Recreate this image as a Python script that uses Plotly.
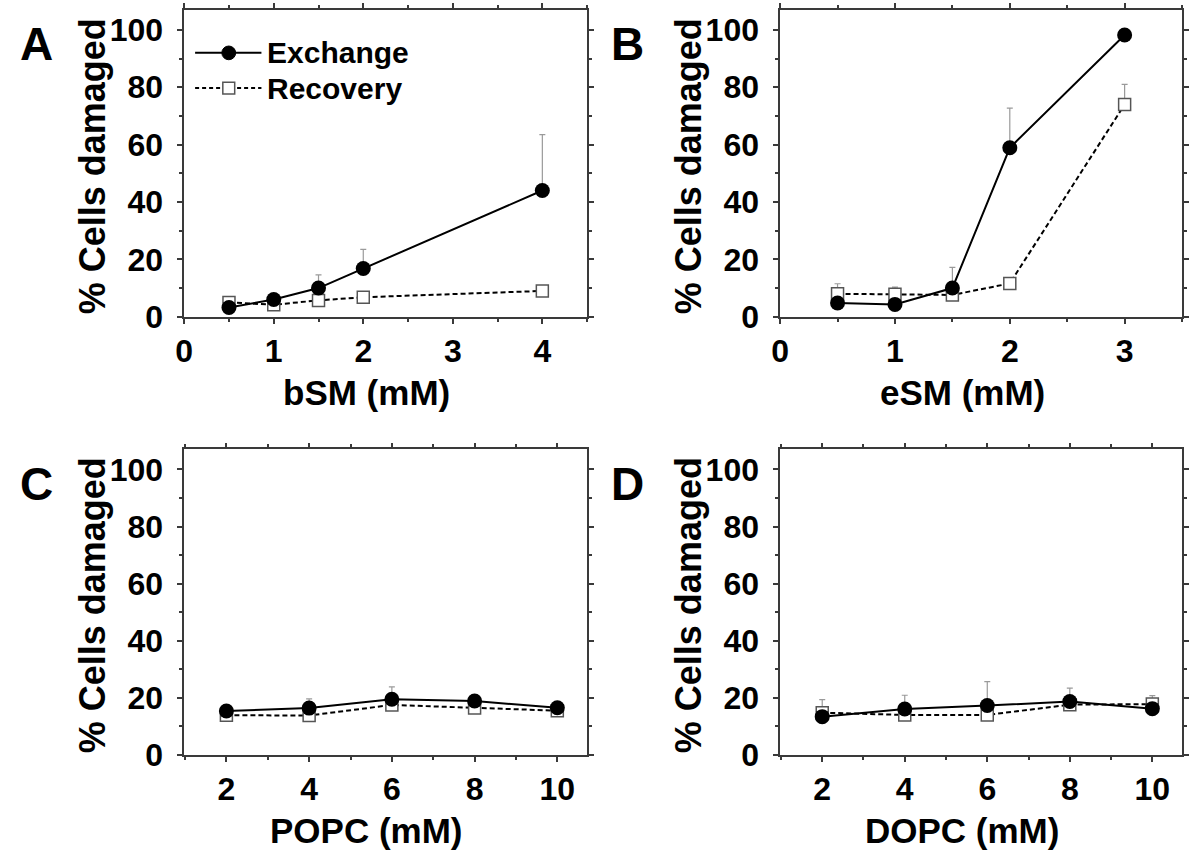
import plotly.graph_objects as go

# ---- data: % cells damaged vs lipid concentration (mean and upper error) ----
bsm_mm = [0.5, 1, 1.5, 2, 4]
bsm_exchange = [3.2, 6.0, 10.0, 16.8, 44.0]
bsm_exchange_err = [0.8, 0.8, 4.6, 6.7, 19.5]
bsm_recovery = [5.0, 4.2, 5.7, 6.8, 9.0]
bsm_recovery_err = [0.8, 0.6, 0.8, 0.8, 1.4]

esm_mm = [0.5, 1, 1.5, 2, 3]
esm_exchange = [4.8, 4.3, 10.0, 58.9, 98.2]
esm_exchange_err = [1.0, 1.0, 7.2, 13.8, 0.5]
esm_recovery = [8.0, 7.8, 7.6, 11.6, 74.0]
esm_recovery_err = [3.5, 2.5, 1.0, 1.0, 7.0]

popc_mm = [2, 4, 6, 8, 10]
popc_exchange = [15.4, 16.4, 19.5, 18.9, 16.5]
popc_exchange_err = [1.0, 3.2, 4.3, 1.0, 1.0]
popc_recovery = [13.9, 13.8, 17.5, 16.4, 15.5]
popc_recovery_err = [0.5, 0.5, 0.8, 0.5, 0.5]

dopc_mm = [2, 4, 6, 8, 10]
dopc_exchange = [13.4, 16.1, 17.3, 18.7, 16.2]
dopc_exchange_err = [1.0, 4.8, 8.4, 4.7, 1.0]
dopc_recovery = [14.8, 14.0, 14.0, 17.6, 17.8]
dopc_recovery_err = [4.6, 1.0, 1.0, 1.0, 3.0]

panels = [
    dict(letter="A", xtitle="bSM (mM)", x=bsm_mm, ex=bsm_exchange, exe=bsm_exchange_err,
         rc=bsm_recovery, rce=bsm_recovery_err, xrange=[0, 4.5], dtick=1, mdtick=0.5),
    dict(letter="B", xtitle="eSM (mM)", x=esm_mm, ex=esm_exchange, exe=esm_exchange_err,
         rc=esm_recovery, rce=esm_recovery_err, xrange=[0, 3.5], dtick=1, mdtick=0.5),
    dict(letter="C", xtitle="POPC (mM)", x=popc_mm, ex=popc_exchange, exe=popc_exchange_err,
         rc=popc_recovery, rce=popc_recovery_err, xrange=[0.98, 10.72], dtick=2, mdtick=1),
    dict(letter="D", xtitle="DOPC (mM)", x=dopc_mm, ex=dopc_exchange, exe=dopc_exchange_err,
         rc=dopc_recovery, rce=dopc_recovery_err, xrange=[0.98, 10.72], dtick=2, mdtick=1),
]

W, H = 1189, 863
FONT = "Liberation Sans, Arial, sans-serif"
AXC = "#3a3a3a"
ERRC = "#9a9a9a"
YRANGE = [0, 107]

# pixel boxes of the four plotting areas (left, right, top, bottom)
boxes = [(177, 584, 10, 323.5), (779, 1185, 10, 323.5),
         (177, 584, 459, 771), (779, 1185, 459, 771)]


def px(xp):
    return xp / W


def py(yp):
    return 1 - yp / H


fig = go.Figure()
layout = dict(width=W, height=H, margin=dict(l=0, r=0, t=0, b=0), autosize=False,
              paper_bgcolor="white", plot_bgcolor="white", showlegend=False,
              font=dict(family=FONT, color="black"))

annotations = []
shapes = []

for i, p in enumerate(panels):
    n = i + 1
    sfx = "" if n == 1 else str(n)
    l, r, t, b = boxes[i]
    xdom = [px(l), px(r)]
    ydom = [py(b), py(t)]

    # Recovery: dashed line with open squares
    fig.add_trace(go.Scatter(
        x=p["x"], y=p["rc"], mode="lines+markers",
        line=dict(color="black", width=2, dash="5px,3px"),
        marker=dict(symbol="square", size=12, color="white",
                    line=dict(color="#555555", width=1.5)),
        error_y=dict(type="data", symmetric=False, array=p["rce"],
                     arrayminus=[0] * len(p["rce"]), color=ERRC, thickness=1.2, width=3),
        xaxis="x" + sfx, yaxis="y" + sfx, name="Recovery"))
    # Exchange: solid line with filled circles
    fig.add_trace(go.Scatter(
        x=p["x"], y=p["ex"], mode="lines+markers",
        line=dict(color="black", width=2),
        marker=dict(symbol="circle", size=15, color="black"),
        error_y=dict(type="data", symmetric=False, array=p["exe"],
                     arrayminus=[0] * len(p["exe"]), color=ERRC, thickness=1.2, width=3),
        xaxis="x" + sfx, yaxis="y" + sfx, name="Exchange"))

    # boxed axes: ticks and minor ticks on all four sides, labels bottom/left
    layout["xaxis" + sfx] = dict(
        domain=xdom, anchor="y" + sfx, range=p["xrange"], dtick=p["dtick"], tick0=0,
        showgrid=False, zeroline=False, showline=True, linecolor=AXC, linewidth=1.5,
        mirror="allticks", ticks="outside", ticklen=5, tickwidth=1.5, tickcolor=AXC,
        minor=dict(ticks="outside", ticklen=3.5, tickwidth=1.5, tickcolor=AXC,
                   dtick=p["mdtick"], tick0=0, showgrid=False),
        tickfont=dict(family=FONT, size=32, color="black", weight="bold"))
    layout["yaxis" + sfx] = dict(
        domain=ydom, anchor="x" + sfx, range=YRANGE, dtick=20, tick0=0,
        showgrid=False, zeroline=False, showline=True, linecolor=AXC, linewidth=1.5,
        mirror="allticks", ticks="outside", ticklen=5, tickwidth=1.5, tickcolor=AXC,
        ticklabelstandoff=8,
        minor=dict(ticks="outside", ticklen=3.5, tickwidth=1.5, tickcolor=AXC,
                   dtick=10, tick0=0, showgrid=False),
        tickfont=dict(family=FONT, size=32, color="black", weight="bold"))

    # axis titles and panel letter
    ytitle_x = 84 if i % 2 == 0 else 686
    ytitle_y = (t + b) / 2 + 3
    annotations.append(dict(text="% Cells damaged", x=px(ytitle_x), y=py(ytitle_y),
                            xref="paper", yref="paper", showarrow=False, textangle=-90,
                            xanchor="center", yanchor="middle",
                            font=dict(family=FONT, size=36, color="black", weight="bold")))
    xtitle_x = (l + r) / 2 - 19
    xtitle_y = b + 77
    annotations.append(dict(text=p["xtitle"], x=px(xtitle_x), y=py(xtitle_y),
                            xref="paper", yref="paper", showarrow=False,
                            xanchor="center", yanchor="middle",
                            font=dict(family=FONT, size=35, color="black", weight="bold")))
    letter_x = 28 if i % 2 == 0 else 625
    letter_y = t + 35
    annotations.append(dict(text=p["letter"], x=px(letter_x), y=py(letter_y),
                            xref="paper", yref="paper", showarrow=False,
                            xanchor="center", yanchor="middle",
                            font=dict(family=FONT, size=46, color="black", weight="bold")))

# legend drawn inside panel A
leg_x0, leg_x1, leg_xm = 188, 255, 222
for yy, label, dash in [(54, "Exchange", "solid"), (90, "Recovery", "4px,3px")]:
    shapes.append(dict(type="line", xref="paper", yref="paper",
                       x0=px(leg_x0), x1=px(leg_x1), y0=py(yy), y1=py(yy),
                       line=dict(color="black", width=2, dash=dash)))
    annotations.append(dict(text=label, x=px(259), y=py(yy), xref="paper", yref="paper",
                            showarrow=False, xanchor="left", yanchor="middle",
                            font=dict(family=FONT, size=30, color="black", weight="bold")))
shapes.append(dict(type="circle", xref="paper", yref="paper",
                   x0=px(leg_xm - 7), x1=px(leg_xm + 7), y0=py(54 + 7), y1=py(54 - 7),
                   fillcolor="black", line=dict(color="black", width=1)))
shapes.append(dict(type="rect", xref="paper", yref="paper",
                   x0=px(leg_xm - 6), x1=px(leg_xm + 6), y0=py(90 + 6), y1=py(90 - 6),
                   fillcolor="white", line=dict(color="#555555", width=1.5)))

layout["annotations"] = annotations
layout["shapes"] = shapes
fig.update_layout(**layout)
fig.write_html("out.html")
